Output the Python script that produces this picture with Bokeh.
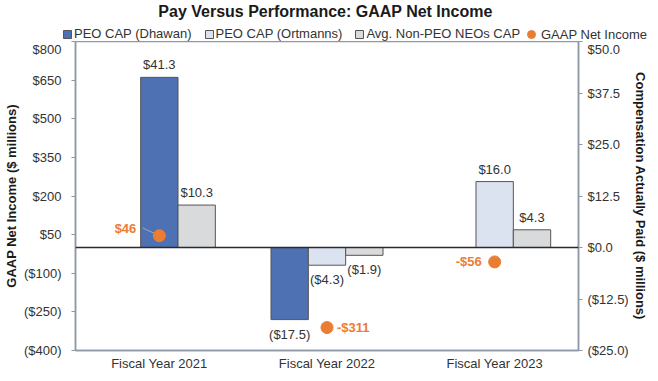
from bokeh.plotting import figure
from bokeh.models import (ColumnDataSource, Range1d, LinearAxis, FixedTicker, Legend,
                          LegendItem, LabelSet, Label, Span)
from bokeh.layouts import column
from bokeh.core.properties import value
from bokeh.embed import file_html
from bokeh.resources import INLINE

# ---------------- data ----------------
categories = ["Fiscal Year 2021", "Fiscal Year 2022", "Fiscal Year 2023"]
dhawan_cap = [41.3, -17.5, None]
ortmanns_cap = [None, -4.3, 16.0]
non_peo_cap = [10.3, -1.9, 4.3]
net_income = [46, -311, -56]
series_names = ["PEO CAP (Dhawan)", "PEO CAP (Ortmanns)", "Avg. Non-PEO NEOs CAP", "GAAP Net Income"]

left_ticks = [-400, -250, -100, 50, 200, 350, 500, 650, 800]
left_tick_labels = ["($400)", "($250)", "($100)", "$50", "$200", "$350", "$500", "$650", "$800"]
right_ticks = [-25, -12.5, 0, 12.5, 25, 37.5, 50]
right_tick_labels = ["($25.0)", "($12.5)", "$0.0", "$12.5", "$25.0", "$37.5", "$50.0"]

# ---------------- styles ----------------
FONT = "Liberation Sans"
FS = "13px"
BAR_W = 0.2227
dhawan_slot = [0, -1, 0]
ortmanns_slot = [0, 0, 0]
non_peo_slot = [1, 1, 1]
C_DHAWAN = "#4D71B3"
C_ORT = "#DCE3F0"
C_NONPEO = "#D9DADC"
C_ORANGE = "#EB7D32"
C_AXIS = "#8E99A8"
C_TEXT = "#333333"
C_EDGE = "#555555"
ni_align = ["right", "left", "right"]
ni_dx = [-23, 10, -13]
ni_dy = [7, 0, 0]


def fmt_cap(v):
    return f"${v:.1f}" if v >= 0 else f"(${-v:.1f})"


def fmt_ni(v):
    return f"${v}" if v >= 0 else f"-${-v}"


# ================= header figure (title + legend) =================
h = figure(width=650, height=41, x_range=Range1d(0, 1), y_range=Range1d(0, 1),
           output_backend="svg", toolbar_location=None,
           x_axis_location=None, y_axis_location=None,
           title="Pay Versus Performance: GAAP Net Income")
h.frame_align = False
h.min_border_left = 0
h.min_border_right = 0
h.min_border_top = 0
h.min_border_bottom = 0
h.outline_line_color = None
h.xgrid.visible = False
h.ygrid.visible = False
h.title.align = "center"
h.title.text_font = FONT
h.title.text_font_size = "16px"
h.title.text_font_style = "bold"
h.title.text_color = "#1a1a1a"
h.title.standoff = 0

hd = h.vbar(x=[5], top=[1], width=0.1, fill_color=C_DHAWAN, line_color=C_EDGE)
ho = h.vbar(x=[5], top=[1], width=0.1, fill_color=C_ORT, line_color=C_EDGE)
hn = h.vbar(x=[5], top=[1], width=0.1, fill_color=C_NONPEO, line_color=C_EDGE)
hi = h.scatter(x=[5], y=[1], size=8, fill_color=C_ORANGE, line_color=C_ORANGE)

leg1 = Legend(items=[LegendItem(label=series_names[0], renderers=[hd]),
                     LegendItem(label=series_names[1], renderers=[ho]),
                     LegendItem(label=series_names[2], renderers=[hn])],
              orientation="horizontal", location=(62, 0),
              glyph_width=10, glyph_height=10, label_standoff=2, spacing=12,
              padding=0, margin=0, border_line_color=None, background_fill_alpha=0,
              label_text_font=FONT, label_text_font_size=FS, label_text_color=C_TEXT,
              label_height=12)
leg2 = Legend(items=[LegendItem(label=series_names[3], renderers=[hi])],
              orientation="horizontal", location=(521, -3),
              glyph_width=20, glyph_height=20, label_standoff=0, spacing=0,
              padding=0, margin=0, border_line_color=None, background_fill_alpha=0,
              label_text_font=FONT, label_text_font_size=FS, label_text_color=C_TEXT,
              label_height=12)
h.add_layout(leg1, "center")
h.add_layout(leg2, "center")

# ================= main figure =================
p = figure(width=650, height=332, x_range=Range1d(-0.5, 2.5), y_range=Range1d(-400, 800),
           output_backend="svg", toolbar_location=None)
p.frame_align = False
p.extra_y_ranges = {"cap": Range1d(-25, 50)}
p.min_border = 0
p.min_border_left = 63
p.min_border_right = 0
p.min_border_top = 0
p.min_border_bottom = 0
p.xgrid.visible = False
p.ygrid.visible = False
p.outline_line_color = C_AXIS
p.outline_line_width = 1.5

# x axis
xa = p.xaxis[0]
xa.axis_label = None
xa.axis_label_standoff = 0
xa.axis_label_text_font_size = "0px"
xa.ticker = FixedTicker(ticks=list(range(len(categories))))
xa.major_label_overrides = {i: c for i, c in enumerate(categories)}
xa.major_tick_out = 0
xa.major_tick_in = 0
xa.minor_tick_out = 0
xa.minor_tick_in = 0
xa.axis_line_color = C_AXIS
xa.axis_line_width = 1.5
xa.major_label_text_font = FONT
xa.major_label_text_font_size = FS
xa.major_label_text_color = C_TEXT
xa.major_label_standoff = 5

# left axis
ya = p.yaxis[0]
ya.ticker = FixedTicker(ticks=left_ticks)
ya.major_label_overrides = {t: l for t, l in zip(left_ticks, left_tick_labels)}
ya.axis_label = "GAAP Net Income ($ millions)"
ya.major_label_standoff = 10
ya.axis_label_standoff = 2

# right axis
ra = LinearAxis(y_range_name="cap", ticker=FixedTicker(ticks=right_ticks),
                axis_label="Compensation Actually Paid ($ millions)")
ra.major_label_overrides = {t: l for t, l in zip(right_ticks, right_tick_labels)}
ra.major_label_standoff = 5
ra.axis_label_standoff = 1
p.add_layout(ra, "right")

for ax in (ya, ra):
    ax.axis_line_color = C_AXIS
    ax.axis_line_width = 1.5
    ax.major_tick_line_color = C_AXIS
    ax.major_tick_out = 4
    ax.major_tick_in = 0
    ax.minor_tick_out = 0
    ax.minor_tick_in = 0
    ax.major_label_text_font = FONT
    ax.major_label_text_font_size = FS
    ax.major_label_text_color = C_TEXT
    ax.axis_label_text_font = FONT
    ax.axis_label_text_font_size = FS
    ax.axis_label_text_font_style = "bold"
    ax.axis_label_text_color = "#1a1a1a"


def bars(values, slots, color):
    xs, tops = [], []
    for i, (v, s) in enumerate(zip(values, slots)):
        if v is None:
            continue
        xs.append(i + s * BAR_W)
        tops.append(v)
    src = ColumnDataSource(dict(x=xs, top=tops))
    r = p.vbar(x="x", top="top", bottom=0, width=BAR_W, source=src, y_range_name="cap",
               fill_color=color, line_color=C_EDGE, line_width=1)
    pos = ColumnDataSource(dict(x=[x for x, t in zip(xs, tops) if t >= 0],
                                y=[t for t in tops if t >= 0],
                                lab=[fmt_cap(t) for t in tops if t >= 0]))
    neg = ColumnDataSource(dict(x=[x for x, t in zip(xs, tops) if t < 0],
                                y=[t for t in tops if t < 0],
                                lab=[fmt_cap(t) for t in tops if t < 0]))
    for s, base, off in ((pos, "bottom", 5), (neg, "top", -7)):
        p.add_layout(LabelSet(x="x", y="y", text="lab", source=s, y_range_name="cap",
                              text_align="center", text_baseline=base, y_offset=off,
                              text_font=value(FONT), text_font_size=value(FS),
                              text_color=C_TEXT))
    return r


bars(dhawan_cap, dhawan_slot, C_DHAWAN)
bars(ortmanns_cap, ortmanns_slot, C_ORT)
bars(non_peo_cap, non_peo_slot, C_NONPEO)

p.add_layout(Span(location=0, dimension="width", line_color="#2a2a2a", line_width=1.5))

# leader line for first net income label
p.segment(x0=[0 - 0.1], y0=[net_income[0] + 30], x1=[0], y1=[net_income[0]],
          line_color="#A8A8A8", line_width=1)

ni_src = ColumnDataSource(dict(x=list(range(len(categories))), y=net_income))
p.scatter(x="x", y="y", source=ni_src, size=12, fill_color=C_ORANGE, line_color=C_ORANGE)

for i, v in enumerate(net_income):
    p.add_layout(Label(x=i, y=v, text=fmt_ni(v), x_offset=ni_dx[i], y_offset=ni_dy[i],
                       text_align=ni_align[i], text_baseline="middle", text_font=FONT,
                       text_font_size=FS, text_font_style="bold", text_color=C_ORANGE))

layout = column(h, p, spacing=0)
open("out.html", "w").write(file_html(layout, INLINE))
